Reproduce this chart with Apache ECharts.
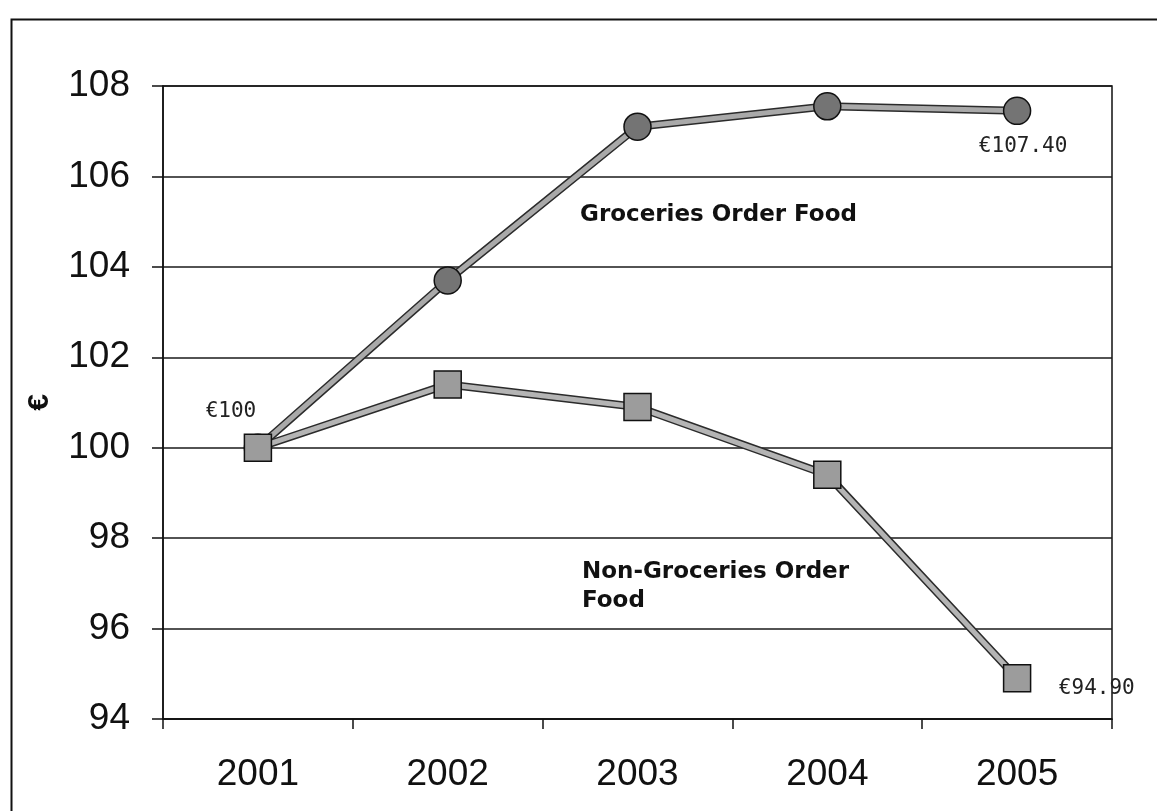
<!DOCTYPE html>
<html>
<head>
<meta charset="utf-8">
<script src="https://cdn.jsdelivr.net/npm/echarts@6/dist/echarts.min.js"></script>
<style>
html,body{margin:0;padding:0;background:#fff;}
#chart{width:1157px;height:811px;}
</style>
</head>
<body>
<div id="chart"></div>
<script>
// ---- data ----
var categories = ['2001', '2002', '2003', '2004', '2005'];
var groceries = [100, 103.7, 107.1, 107.55, 107.45];
var nonGroceries = [100, 101.4, 100.9, 99.4, 94.9];
var yMin = 94, yMax = 108, yStep = 2;
var yAxisName = '€';
var groceriesName = 'Groceries Order Food';
var nonGroceriesName = ['Non-Groceries Order', 'Food'];
var startLabel = '€100';
var groceriesEndLabel = '€107.40';
var nonGroceriesEndLabel = '€94.90';

// ---- styling ----
var labelFont = {fontFamily: 'DejaVu Sans Mono', fontSize: 21, color: '#222'};
var SYM = 27;

function withLabels(values, labels) {
  return values.map(function (v, i) {
    if (labels[i]) {
      return {value: v, label: Object.assign({show: true, formatter: labels[i].text,
        position: labels[i].pos, align: 'left', verticalAlign: 'middle'}, labelFont)};
    }
    return v;
  });
}

var gData = withLabels(groceries, {4: {text: groceriesEndLabel, pos: [-24, 50]}});
var nData = withLabels(nonGroceries, {
  0: {text: startLabel, pos: [-38, -22]},
  4: {text: nonGroceriesEndLabel, pos: [56, 24]}
});

var chart = echarts.init(document.getElementById('chart'), null, {renderer: 'canvas'});
chart.setOption({
  backgroundColor: '#fff',
  animation: false,
  grid: {left: 163, right: 45, top: 86, bottom: 92, show: true, borderColor: '#111', borderWidth: 1.5},
  xAxis: {
    type: 'category',
    data: categories,
    boundaryGap: true,
    axisLine: {lineStyle: {color: '#111', width: 1.5}},
    axisTick: {show: true, length: 10, lineStyle: {color: '#111', width: 1.5}},
    axisLabel: {fontFamily: 'Liberation Sans', fontSize: 37, color: '#111', margin: 37}
  },
  yAxis: {
    type: 'value',
    min: yMin, max: yMax, interval: yStep,
    name: yAxisName,
    nameLocation: 'middle',
    nameGap: 108,
    nameTextStyle: {fontFamily: 'Liberation Sans', fontSize: 30, fontWeight: 'bold', color: '#111'},
    axisLine: {show: true, lineStyle: {color: '#111', width: 1.5}},
    axisTick: {show: true, length: 11, lineStyle: {color: '#111', width: 1.5}},
    axisLabel: {fontFamily: 'Liberation Sans', fontSize: 37, color: '#111', margin: 33},
    splitLine: {show: true, lineStyle: {color: '#1a1a1a', width: 1.5}}
  },
  graphic: [
    {type: 'rect', left: 9, top: 17, z: 100, silent: true,
     shape: {x: 0, y: 0, width: 1300, height: 1000},
     style: {fill: 'none', stroke: '#111', lineWidth: 2}},
    {type: 'text', left: 580, top: 204, z: 100,
     style: {text: groceriesName, fontFamily: 'DejaVu Sans', fontWeight: 'bold', fontSize: 23, fill: '#111'}},
    {type: 'text', left: 582, top: 558, z: 100,
     style: {text: nonGroceriesName.join('\n'), fontFamily: 'DejaVu Sans', fontWeight: 'bold', fontSize: 23, lineHeight: 29, fill: '#111'}}
  ],
  series: [
    {type: 'line', data: groceries, symbol: 'none', silent: true, z: 2,
     lineStyle: {color: '#2b2b2b', width: 8}},
    {type: 'line', data: gData, symbol: 'circle', symbolSize: SYM, z: 3,
     lineStyle: {color: '#a9a9a9', width: 5},
     itemStyle: {color: '#747474', borderColor: '#111', borderWidth: 1.5}},
    {type: 'line', data: nonGroceries, symbol: 'none', silent: true, z: 4,
     lineStyle: {color: '#2b2b2b', width: 8}},
    {type: 'line', data: nData, symbol: 'rect', symbolSize: SYM, z: 5,
     lineStyle: {color: '#b4b4b4', width: 5},
     itemStyle: {color: '#9c9c9c', borderColor: '#111', borderWidth: 1.5}}
  ]
});
</script>
</body>
</html>
